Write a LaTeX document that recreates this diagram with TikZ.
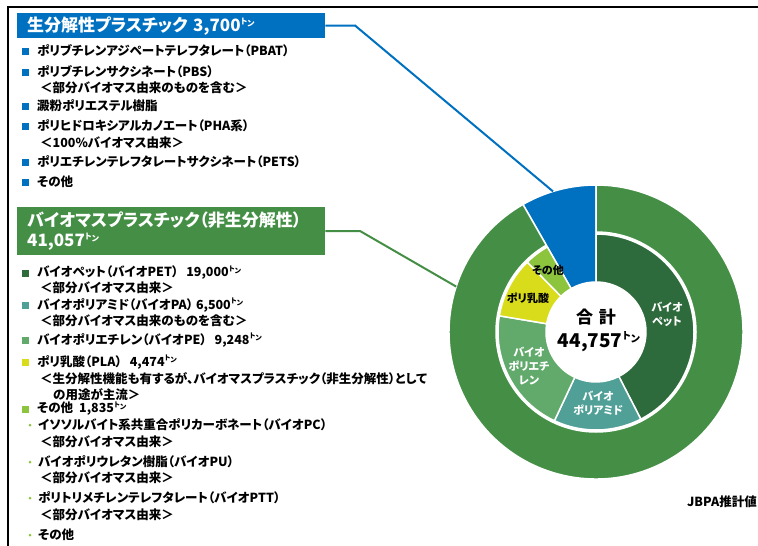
\documentclass[tikz,border=0pt]{standalone}
\usepackage{fontspec}
\setmainfont{Noto Sans CJK JP}[RawFeature=+palt]

\definecolor{bpblue}{HTML}{0070C0}
\definecolor{bmgreen}{HTML}{448F45}
\definecolor{petgreen}{HTML}{2E6B3C}
\definecolor{pateal}{HTML}{50A097}
\definecolor{pegreen}{HTML}{62AA6C}
\definecolor{playellow}{HTML}{D8DC1B}
\definecolor{othgreen}{HTML}{8DC43E}

\newcommand{\tonunit}[1][7]{\raisebox{0.75ex}{\fontsize{#1}{#1}\selectfont ト\raisebox{-0.45ex}{ン}}}

\begin{document}
\begin{tikzpicture}[x=1pt,y=-1pt,
    every node/.style={font=\bfseries\fontsize{12.5}{14}\selectfont, inner sep=0pt},
    item/.style={anchor=west},
    bul/.style={fill=#1, minimum size=7pt, inner sep=0pt},
    dot/.style={circle, fill=othgreen, minimum size=3pt, inner sep=0pt},
    hdr/.style={fill=#1, text=white, anchor=north west, align=left, text width=288pt,
        inner xsep=10pt, font=\bfseries\fontsize{17}{20}\selectfont},
    seg/.style={fill=#1, draw=white, line width=1.5pt},
    lbl/.style={align=center, font=\bfseries\fontsize{11}{14}\selectfont}]
    \useasboundingbox (0,0) rectangle (758,546);
    \draw[line width=2pt] (758,7) -- (8,7) -- (8,546);

    % donut
    \begin{scope}[shift={(596,332)}]
        \path[seg=bpblue] (90:147pt) arc[start angle=90, end angle=119.8, radius=147pt]
            -- (119.8:50pt) arc[start angle=119.8, end angle=90, radius=50pt] -- cycle;
        \path[seg=bmgreen] (119.8:147pt) arc[start angle=119.8, end angle=450, radius=147pt]
            -- (450:100pt) arc[start angle=450, end angle=119.8, radius=100pt] -- cycle;
        \foreach \a/\b/\c in {90/-62.8/petgreen, -62.8/-115.1/pateal, -115.1/-189.5/pegreen,
                -189.5/-225.5/playellow, -225.5/-240.2/othgreen}
            \path[seg=\c] (\a:98pt) arc[start angle=\a, end angle=\b, radius=98pt]
                -- (\b:50pt) arc[start angle=\b, end angle=\a, radius=50pt] -- cycle;
        \coordinate (cbio) at (107:147pt);
        \coordinate (cbm) at (162:147pt);
    \end{scope}
    \node[lbl, text=white] (lpet) at (667,314) {バイオ\\ペット};
    \node[lbl, text=white] (lpa) at (598,403) {バイオ\\ポリアミド};
    \node[lbl, text=white] (lpe) at (529,366) {バイオ\\ポリエチ\\レン};
    \node[lbl] (lpla) at (528,298) {ポリ乳酸};
    \node[lbl] (loth) at (548,270) {その他};
    \node[font=\bfseries\fontsize{17}{17}\selectfont] (sum) at (596,317) {合\hspace{6pt}計};
    \node[font=\bfseries\fontsize{19}{19}\selectfont] (total) at (599,342) {44,757\tonunit[10]};

    % headers
    \node[hdr=bpblue, minimum height=25pt] (bio) at (17,13) {生分解性プラスチック 3,700\tonunit[8]};
    \node[hdr=bmgreen, minimum height=48pt] (bm) at (17,207) {バイオマスプラスチック（非生分解性）\\41,057\tonunit[8]};
    \draw[bpblue, line width=2pt] (bio.east) -- (355,25.5) -- (cbio);
    \draw[bmgreen, line width=2pt] (bm.east) -- (360,231) -- (cbm);

    % biodegradable list
    \foreach \y [count=\i] in {51,72,106,126,162,182}
        \node[bul=bpblue] (bb\i) at (25,\y) {};
    \node[item] (pbat) at (37,51) {ポリブチレンアジペートテレフタレート（PBAT）};
    \node[item] (pbs) at (37,72) {ポリブチレンサクシネート（PBS）};
    \node[item] (pbs2) at (40,88) {＜部分バイオマス由来のものを含む＞};
    \node[item] (starch) at (37,106) {澱粉ポリエステル樹脂};
    \node[item] (pha) at (37,126) {ポリヒドロキシアルカノエート（PHA系）};
    \node[item] (pha2) at (40,143) {＜100\%バイオマス由来＞};
    \node[item] (pets) at (37,162) {ポリエチレンテレフタレートサクシネート（PETS）};
    \node[item] (bother) at (37,182) {その他};

    % biomass list
    \foreach \y/\c [count=\i] in {273/petgreen, 305/pateal, 340/pegreen, 362/playellow, 409/othgreen}
        \node[bul=\c] (gb\i) at (25,\y) {};
    \node[item] (pet) at (37,273) {バイオペット（バイオPET）\hspace{8pt}19,000\tonunit};
    \node[item] (pet2) at (40,288) {＜部分バイオマス由来＞};
    \node[item] (pa) at (37,305) {バイオポリアミド（バイオPA） 6,500\tonunit};
    \node[item] (pa2) at (40,321) {＜部分バイオマス由来のものを含む＞};
    \node[item] (pe) at (37,340) {バイオポリエチレン（バイオPE）\hspace{8pt}9,248\tonunit};
    \node[item] (pla) at (37,362) {ポリ乳酸（PLA）\hspace{8pt}4,474\tonunit};
    \node[item] (pla2) at (40,379) {＜生分解性機能も有するが、バイオマスプラスチック（非生分解性）として};
    \node[item] (pla3) at (53,395) {の用途が主流＞};
    \node[item] (gother) at (37,409) {その他\hspace{6pt}1,835\tonunit};
    \foreach \y [count=\i] in {425,462,498,535}
        \node[dot] (d\i) at (30,\y) {};
    \node[item] (pc) at (38,425) {イソソルバイト系共重合ポリカーボネート（バイオPC）};
    \node[item] (pc2) at (40,442) {＜部分バイオマス由来＞};
    \node[item] (pu) at (38,462) {バイオポリウレタン樹脂（バイオPU）};
    \node[item] (pu2) at (40,478) {＜部分バイオマス由来＞};
    \node[item] (ptt) at (38,498) {ポリトリメチレンテレフタレート（バイオPTT）};
    \node[item] (ptt2) at (40,515) {＜部分バイオマス由来＞};
    \node[item] (dother) at (38,535) {その他};

    \node[anchor=east] (src) at (757,502) {JBPA推計値};
\end{tikzpicture}
\end{document}
